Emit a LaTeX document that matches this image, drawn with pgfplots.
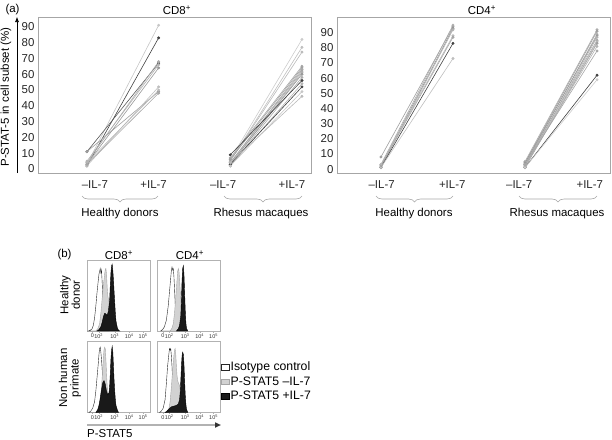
\documentclass[border=0pt]{standalone}
\usepackage{fontspec}
\setmainfont{Liberation Sans}
\usepackage{pgfplots}
\pgfplotsset{compat=1.18}
\usetikzlibrary{decorations.pathreplacing,arrows.meta}

\newcommand{\txt}{\fontsize{11.5}{13}\selectfont}

\pgfplotsset{
  pair/.style={line width=0.6pt, mark=*, mark size=1.15pt, color=#1},
  panel/.style={
    scale only axis, width=273bp, height=156bp, anchor=north west,
    axis line style={gray!70, line width=0.6pt},
    major tick length=0pt,
    ytick={0,10,...,90},
    tick label style={font=\txt, text=black!85},
    xticklabel style={yshift=-4bp},
    /pgf/number format/assume math mode=true,
  },
  hist/.style={
    scale only axis, width=63bp, height=71bp, anchor=north west,
    xmin=0, xmax=100, ymin=0, ymax=100,
    axis line style={gray!60, line width=0.5pt},
    ytick=\empty,
    xtick={8.5,18.5,44,67,89},
    xticklabels={0,10\textsuperscript{2},10\textsuperscript{3},10\textsuperscript{4},10\textsuperscript{5}},
    xtick pos=bottom, tick align=outside, major tick length=1.5bp,
    tick style={gray!60},
    tick label style={font=\fontsize{5.5}{6}\selectfont, text=black!80},
    xticklabel style={inner sep=1pt},
  },
  iso/.style={draw=black!85, line width=0.4pt, fill=white},
  neg/.style={draw=gray!70, line width=0.4pt, fill=gray!35},
  pos/.style={draw=black, line width=0.4pt, fill=black!90},
}

\begin{document}
\begin{tikzpicture}[font=\txt]
\useasboundingbox (0,0) rectangle (612bp,-440bp);

% ---------------- (a) CD8+
\begin{axis}[panel, at={(38bp,-17bp)},
  xmin=0.317, xmax=4.126, ymin=-2.5, ymax=96.2,
  xtick={1.11,1.93,2.90,3.86},
  xticklabels={\textendash IL-7,+IL-7,\textendash IL-7,+IL-7}]
% healthy donors
\addplot[pair=gray!45] coordinates {(1,3) (2,91)};
\addplot[pair=black!75] coordinates {(1,2) (2,83)};
\addplot[pair=black!65] coordinates {(1,11) (2,67)};
\addplot[pair=gray!75] coordinates {(1,11) (2,49)};
\addplot[pair=gray!65] coordinates {(1,4) (2,68)};
\addplot[pair=gray!80] coordinates {(1,3) (2,64)};
\addplot[pair=gray!50] coordinates {(1,2) (2,52)};
\addplot[pair=gray!55] coordinates {(1,4) (2,50)};
\addplot[pair=gray!70] coordinates {(1,3) (2,48)};
\addplot[pair=gray!60] coordinates {(1,5) (2,66)};
% rhesus macaques
\addplot[pair=gray!40] coordinates {(3,6) (4,82)};
\addplot[pair=gray!50] coordinates {(3,5) (4,77)};
\addplot[pair=gray!55] coordinates {(3,5) (4,74)};
\addplot[pair=gray!70] coordinates {(3,7) (4,65)};
\addplot[pair=gray!75] coordinates {(3,6) (4,64)};
\addplot[pair=gray!65] coordinates {(3,4) (4,63)};
\addplot[pair=gray!70] coordinates {(3,4) (4,62)};
\addplot[pair=gray!60] coordinates {(3,3) (4,61)};
\addplot[pair=gray!80] coordinates {(3,3) (4,60)};
\addplot[pair=gray!65] coordinates {(3,2) (4,58)};
\addplot[pair=black!75] coordinates {(3,9) (4,56)};
\addplot[pair=gray!60] coordinates {(3,2) (4,54)};
\addplot[pair=black!75] coordinates {(3,3) (4,52)};
\addplot[pair=gray!45] coordinates {(3,2) (4,49)};
\addplot[pair=gray!55] coordinates {(3,4) (4,46)};
\end{axis}

% ---------------- (a) CD4+
\begin{axis}[panel, at={(337bp,-17bp)},
  xmin=0.39, xmax=4.18, ymin=-2.6, ymax=100.4,
  xtick={1.01,1.99,2.92,3.90},
  xticklabels={\textendash IL-7,+IL-7,\textendash IL-7,+IL-7}]
% healthy donors
\addplot[pair=gray!75] coordinates {(1,8) (2,94)};
\addplot[pair=gray!65] coordinates {(1,3) (2,95)};
\addplot[pair=gray!85] coordinates {(1,2) (2,93)};
\addplot[pair=gray!60] coordinates {(1,1) (2,92)};
\addplot[pair=gray!55] coordinates {(1,3) (2,88)};
\addplot[pair=gray!70] coordinates {(1,2) (2,87)};
\addplot[pair=black!75] coordinates {(1,1) (2,83)};
\addplot[pair=gray!50] coordinates {(1,1) (2,73)};
% rhesus macaques
\addplot[pair=gray!65] coordinates {(3,5) (4,92)};
\addplot[pair=gray!75] coordinates {(3,4) (4,91)};
\addplot[pair=gray!60] coordinates {(3,3) (4,89)};
\addplot[pair=gray!80] coordinates {(3,4) (4,88)};
\addplot[pair=gray!60] coordinates {(3,2) (4,87)};
\addplot[pair=gray!70] coordinates {(3,3) (4,85)};
\addplot[pair=gray!55] coordinates {(3,2) (4,84)};
\addplot[pair=gray!75] coordinates {(3,1) (4,83)};
\addplot[pair=gray!60] coordinates {(3,2) (4,81)};
\addplot[pair=gray!70] coordinates {(3,3) (4,78)};
\addplot[pair=black!75] coordinates {(3,1) (4,62)};
\addplot[pair=gray!40] coordinates {(3,1) (4,59)};
\end{axis}

% labels around (a)
\node[anchor=west] at (2bp,-10bp) {(a)};
\node at (177bp,-10bp) {CD8\textsuperscript{+}};
\node at (482bp,-10bp) {CD4\textsuperscript{+}};
\node[rotate=90] at (6bp,-97bp) {P-STAT-5 in cell subset (\%)};
\draw[line width=0.6pt, -{Latex[length=5bp,width=4bp]}] (17bp,-173bp) -- (17bp,-17bp);
\begin{scope}[gray!70, line width=0.6pt, decorate,
  decoration={brace, mirror, amplitude=6bp}]
\draw[decorate] (82bp,-196bp) -- (158bp,-196bp);
\draw[decorate] (224bp,-196bp) -- (302bp,-196bp);
\draw[decorate] (376bp,-196bp) -- (453bp,-196bp);
\draw[decorate] (519bp,-196bp) -- (597bp,-196bp);
\end{scope}
\node at (120bp,-214bp) {Healthy donors};
\node at (261bp,-214bp) {Rhesus macaques};
\node at (414bp,-214bp) {Healthy donors};
\node at (557bp,-214bp) {Rhesus macaques};

% ---------------- (b) histograms
\begin{axis}[hist, at={(87bp,-260bp)}]
\addplot[iso] coordinates {(2,0) (5,1) (8,3) (10,8) (12,18) (14,35) (16,55) (18,72) (19,80) (20,84) (21,88) (22,82) (23,86) (24,70) (25,50) (26,30) (27,15) (28,6) (30,2) (33,0)} \closedcycle;
\addplot[neg] coordinates {(14,0) (17,3) (20,10) (22,25) (24,45) (26,65) (28,80) (29,87) (30,88) (31,80) (32,62) (33,50) (34,45) (35,40) (37,30) (39,15) (41,5) (44,0)} \closedcycle;
\addplot[pos] coordinates {(16,0) (19,2) (22,6) (24,12) (26,20) (28,25) (30,24) (32,22) (34,28) (36,45) (37,65) (38,82) (39,92) (40,94) (41,85) (42,72) (43,55) (44,40) (45,25) (46,14) (48,5) (50,1) (52,0)} \closedcycle;
\end{axis}

\begin{axis}[hist, at={(157.5bp,-260bp)}]
\addplot[iso] coordinates {(5,0) (8,2) (11,6) (14,15) (17,35) (19,55) (21,75) (22,85) (23,90) (24,86) (25,88) (26,78) (27,60) (28,40) (29,22) (30,10) (32,3) (35,0)} \closedcycle;
\addplot[neg] coordinates {(20,0) (23,4) (25,10) (27,25) (29,48) (31,72) (32,84) (33,88) (34,85) (35,74) (36,58) (37,42) (38,28) (40,14) (42,5) (45,0)} \closedcycle;
\addplot[pos] coordinates {(30,0) (33,3) (35,8) (37,22) (38,45) (39,72) (40,88) (41,92) (42,80) (43,55) (44,30) (45,12) (46,4) (48,0)} \closedcycle;
\end{axis}

\begin{axis}[hist, at={(87bp,-341.5bp)}]
\addplot[iso] coordinates {(3,0) (6,2) (9,6) (12,15) (14,30) (16,50) (18,70) (19,82) (20,90) (21,92) (22,85) (23,75) (24,62) (25,45) (26,30) (28,12) (30,4) (33,0)} \closedcycle;
\addplot[neg] coordinates {(16,0) (19,5) (21,15) (23,35) (25,62) (26,78) (27,88) (28,92) (29,90) (30,75) (31,55) (32,38) (33,25) (34,18) (36,12) (38,6) (40,2) (43,0)} \closedcycle;
\addplot[pos] coordinates {(14,0) (17,4) (19,10) (21,20) (23,32) (25,42) (27,45) (29,40) (31,30) (33,25) (35,28) (36,38) (37,55) (38,75) (39,88) (40,93) (41,85) (42,65) (43,45) (44,30) (45,18) (46,10) (48,4) (50,0)} \closedcycle;
\end{axis}

\begin{axis}[hist, at={(157.5bp,-341.5bp)},
  legend image code/.code={\draw[#1] (0bp,-2.7bp) rectangle (8bp,2.7bp);},
  legend cell align=left,
  legend style={at={(1.008,0.73)}, anchor=north west, draw=none, fill=none,
    inner sep=0pt, row sep=2.5bp, font=\fontsize{12.3}{13}\selectfont, nodes={inner sep=1bp}}]
\addplot[iso] coordinates {(3,0) (6,2) (9,6) (12,18) (14,40) (16,65) (18,82) (19,90) (20,88) (21,90) (22,80) (23,65) (24,45) (25,28) (27,10) (29,3) (32,0)} \closedcycle;
\addplot[neg] coordinates {(15,0) (18,5) (20,15) (22,35) (24,60) (26,80) (27,88) (28,90) (29,82) (30,65) (31,52) (32,45) (33,42) (34,40) (35,38) (36,30) (37,18) (38,8) (40,2) (42,0)} \closedcycle;
\addplot[pos] coordinates {(12,0) (15,2) (18,5) (22,8) (26,9) (30,10) (33,12) (35,18) (36,28) (37,45) (38,65) (39,80) (40,85) (41,82) (42,68) (43,45) (44,25) (45,12) (46,5) (48,0)} \closedcycle;
\legend{Isotype control, P-STAT5 \textendash IL-7, P-STAT5 +IL-7}
\end{axis}

% labels around (b)
\node[anchor=west] at (54bp,-255bp) {(b)};
\node at (119bp,-255bp) {CD8\textsuperscript{+}};
\node at (190bp,-255bp) {CD4\textsuperscript{+}};
\node[rotate=90, align=center, font=\fontsize{11.5}{11.5}\selectfont] at (70bp,-295bp) {Healthy\\donor};
\node[rotate=90, align=center, font=\fontsize{11.5}{11.5}\selectfont] at (70bp,-378bp) {Non human\\primate};
\draw[gray!60, line width=1.5pt, -{Triangle[length=6bp,width=5bp,black!80]}] (87bp,-425bp) -- (221bp,-425bp);
\node[anchor=west, inner sep=0pt] at (87bp,-433.5bp) {P-STAT5};
\end{tikzpicture}
\end{document}
